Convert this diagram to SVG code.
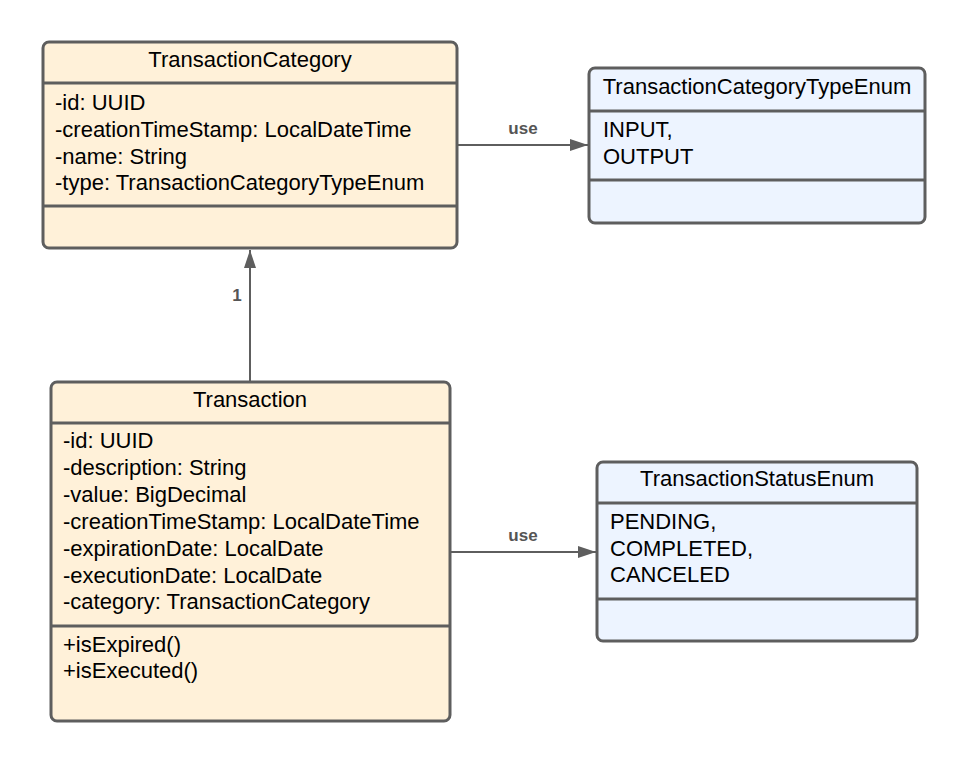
<svg xmlns="http://www.w3.org/2000/svg" width="966" height="773" viewBox="0 0 966 773">
<defs>
<style>
.box{stroke:#5e5e5e;stroke-width:3}
.cls{fill:#fff1d9}
.enm{fill:#edf4ff}
.div{stroke:#5e5e5e;stroke-width:3;fill:none}
.t{font-family:"Liberation Sans",Arial,sans-serif;font-size:22px;fill:#000}
.c{text-anchor:middle}
.lbl{font-family:"Liberation Sans",Arial,sans-serif;font-size:17px;font-weight:bold;fill:#555;text-anchor:middle}
.con{stroke:#5e5e5e;stroke-width:2;fill:none}
</style>
<marker id="arr" viewBox="0 0 18 12" refX="18" refY="6" markerWidth="18" markerHeight="12" markerUnits="userSpaceOnUse" orient="auto">
<path d="M0,0 L18,6 L0,12 Z" fill="#5e5e5e"/>
</marker>
</defs>
<rect width="966" height="773" fill="#fff"/>
<g id="TransactionCategory">
<rect class="box cls" x="43" y="42" width="414" height="206" rx="6"/>
<line class="div" x1="43" y1="83" x2="457" y2="83"/>
<line class="div" x1="43" y1="206" x2="457" y2="206"/>
<text class="t c" x="250" y="67">TransactionCategory</text>
<text class="t" x="55" y="110">-id: UUID</text>
<text class="t" x="55" y="137">-creationTimeStamp: LocalDateTime</text>
<text class="t" x="55" y="164">-name: String</text>
<text class="t" x="55" y="190">-type: TransactionCategoryTypeEnum</text>
</g>
<g id="TransactionCategoryTypeEnum">
<rect class="box enm" x="589" y="68" width="336" height="155" rx="6"/>
<line class="div" x1="589" y1="111" x2="925" y2="111"/>
<line class="div" x1="589" y1="180" x2="925" y2="180"/>
<text class="t c" x="757" y="94">TransactionCategoryTypeEnum</text>
<text class="t" x="603" y="137">INPUT,</text>
<text class="t" x="603" y="164">OUTPUT</text>
</g>
<g id="Transaction">
<rect class="box cls" x="51" y="382" width="399" height="339" rx="6"/>
<line class="div" x1="51" y1="423" x2="450" y2="423"/>
<line class="div" x1="51" y1="626" x2="450" y2="626"/>
<text class="t c" x="250" y="407">Transaction</text>
<text class="t" x="63" y="448">-id: UUID</text>
<text class="t" x="63" y="475">-description: String</text>
<text class="t" x="63" y="502">-value: BigDecimal</text>
<text class="t" x="63" y="529">-creationTimeStamp: LocalDateTime</text>
<text class="t" x="63" y="556">-expirationDate: LocalDate</text>
<text class="t" x="63" y="583">-executionDate: LocalDate</text>
<text class="t" x="63" y="609">-category: TransactionCategory</text>
<text class="t" x="63" y="652">+isExpired()</text>
<text class="t" x="63" y="678">+isExecuted()</text>
</g>
<g id="TransactionStatusEnum">
<rect class="box enm" x="597" y="462" width="320" height="179" rx="6"/>
<line class="div" x1="597" y1="503" x2="917" y2="503"/>
<line class="div" x1="597" y1="599" x2="917" y2="599"/>
<text class="t c" x="757" y="486">TransactionStatusEnum</text>
<text class="t" x="610" y="529">PENDING,</text>
<text class="t" x="610" y="556">COMPLETED,</text>
<text class="t" x="610" y="582">CANCELED</text>
</g>
<g id="connectors">
<line class="con" x1="458" y1="145" x2="588" y2="145" marker-end="url(#arr)"/>
<text class="lbl" x="523" y="134">use</text>
<line class="con" x1="250" y1="381" x2="250" y2="250" marker-end="url(#arr)"/>
<text class="lbl" x="237" y="301">1</text>
<line class="con" x1="451" y1="552" x2="596" y2="552" marker-end="url(#arr)"/>
<text class="lbl" x="523" y="541">use</text>
</g>
</svg>
